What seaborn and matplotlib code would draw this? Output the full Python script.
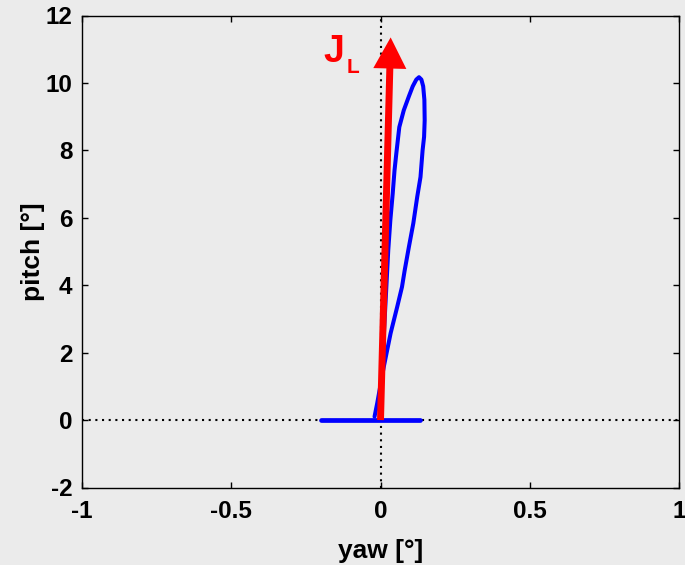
import matplotlib
matplotlib.use("Agg")
import matplotlib.pyplot as plt
import seaborn as sns
import pandas as pd

# ---- data ----
loop_yaw = [0.0, 0.006, 0.012, 0.019, 0.026, 0.033, 0.041, 0.047, 0.053, 0.063,
            0.078, 0.095, 0.108, 0.120, 0.129, 0.137, 0.143, 0.147, 0.148, 0.146,
            0.141, 0.134, 0.123, 0.110, 0.095, 0.081, 0.072, 0.056, 0.034, 0.011,
            -0.011, -0.020]
loop_pitch = [0.0, 1.3, 2.67, 3.85, 5.04, 5.93, 6.73, 7.41, 7.91, 8.69,
              9.19, 9.60, 9.90, 10.10, 10.17, 10.10, 9.90, 9.50, 8.89, 8.40,
              8.00, 7.21, 6.62, 5.84, 5.13, 4.44, 3.95, 3.36, 2.58, 1.58,
              0.50, 0.10]
base_yaw = [-0.20, 0.134]
base_pitch = [0.0, 0.0]
arrow_tip = (0.034, 11.35)
arrow_label = "J"
arrow_sub = "L"
xticks = [-1, -0.5, 0, 0.5, 1]
xticklabels = ["-1", "-0.5", "0", "0.5", "1"]
yticks = [-2, 0, 2, 4, 6, 8, 10, 12]
yticklabels = ["-2", "0", "2", "4", "6", "8", "10", "12"]

sns.set_theme(style="ticks")
plt.rcParams["font.family"] = ["Liberation Sans", "DejaVu Sans"]
plt.rcParams["font.weight"] = "bold"
plt.rcParams["text.color"] = "black"
plt.rcParams["axes.labelcolor"] = "black"

bg = "#ebebeb"
fig = plt.figure(figsize=(6.85, 5.65), dpi=100, facecolor=bg)
ax = fig.add_axes([82 / 685, 1 - 487.5 / 565, (679 - 82) / 685, (487.5 - 15.5) / 565])
ax.set_facecolor(bg)

# dotted zero lines
ax.axhline(0, color="black", lw=1.5, ls=(0, (1, 2.2)), zorder=1)
ax.axvline(0, color="black", lw=1.5, ls=(0, (1, 2.2)), zorder=1)

df_loop = pd.DataFrame({"yaw": loop_yaw, "pitch": loop_pitch})
df_base = pd.DataFrame({"yaw": base_yaw, "pitch": base_pitch})
sns.lineplot(data=df_loop, x="yaw", y="pitch", sort=False, estimator=None,
             color="#0000ff", lw=2.9, ax=ax, zorder=2)
sns.lineplot(data=df_base, x="yaw", y="pitch", sort=False, estimator=None,
             color="#0000ff", lw=3.4, ax=ax, zorder=2)

ax.annotate("", xy=arrow_tip, xytext=(0, 0),
            arrowprops=dict(arrowstyle="simple,head_length=1.12,head_width=1.19,tail_width=0.25",
                            color="#ff0000", lw=0, shrinkA=0, shrinkB=0, mutation_scale=20),
            zorder=3)
ax.text(-0.156, 10.61, arrow_label, color="#ff0000", fontsize=27, fontweight="bold",
        ha="center", va="baseline")
ax.text(-0.092, 10.28, arrow_sub, color="#ff0000", fontsize=15, fontweight="bold",
        ha="center", va="baseline")

ax.set_xlim(-1, 1)
ax.set_ylim(-2, 12)
ax.set_xticks(xticks)
ax.set_xticklabels(xticklabels)
ax.set_yticks(yticks)
ax.set_yticklabels(yticklabels)
ax.tick_params(axis="both", direction="in", length=4.5, width=1, top=True, right=True,
               labelsize=17.5, colors="black")
ax.tick_params(axis="x", pad=9)
ax.tick_params(axis="y", pad=7)
for lab in ax.get_xticklabels() + ax.get_yticklabels():
    lab.set_fontweight("bold")
for sp in ax.spines.values():
    sp.set_visible(True)
    sp.set_linewidth(1.0)
    sp.set_color("black")

ax.set_xlabel("yaw [°]", fontsize=19, fontweight="bold", color="black")
ax.set_ylabel("pitch [°]", fontsize=19, fontweight="bold", color="black")
ax.xaxis.set_label_coords(0.5, -0.109)
ax.yaxis.set_label_coords(-0.062, 0.5)

fig.savefig("out.png", dpi=100, facecolor=bg)
